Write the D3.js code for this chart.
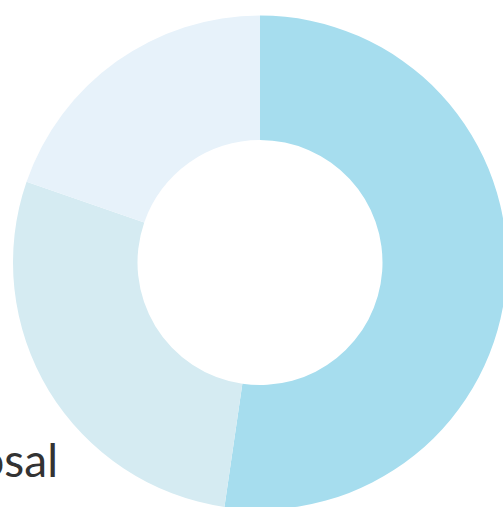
<!DOCTYPE html>
<html>
<head>
<meta charset="utf-8">
<script src="https://cdn.jsdelivr.net/npm/d3@7"></script>
<style>
  html, body { margin: 0; padding: 0; background: #fff; overflow: hidden; }
</style>
</head>
<body>
<div id="chart"></div>
<script>
// slice data, clockwise from 12 o'clock
var categories = ["A", "B", "Proposal"];
var values = [52.3, 28, 19.7];
var colors = ["#a6ddee", "#d5ebf2", "#e7f2fa"];

var width = 503, height = 507;
var cx = 260, cy = 262.5;
var outerR = 247, innerR = 122.5;

var svg = d3.select("#chart").append("svg")
    .attr("width", width)
    .attr("height", height);

var pie = d3.pie().sort(null).value(function(d) { return d; });
var arc = d3.arc().innerRadius(innerR).outerRadius(outerR);

var g = svg.append("g")
    .attr("transform", "translate(" + cx + "," + cy + ")");

g.selectAll("path")
    .data(pie(values))
    .enter()
    .append("path")
    .attr("d", arc)
    .style("fill", function(d, i) { return colors[i]; });

// label of the second slice, mostly cut off on the left
svg.append("text")
    .attr("x", 58)
    .attr("y", 477)
    .attr("text-anchor", "end")
    .attr("font-family", "Lato, 'Open Sans', sans-serif")
    .attr("font-size", 46)
    .attr("fill", "#333")
    .text("Proposal");
</script>
</body>
</html>
